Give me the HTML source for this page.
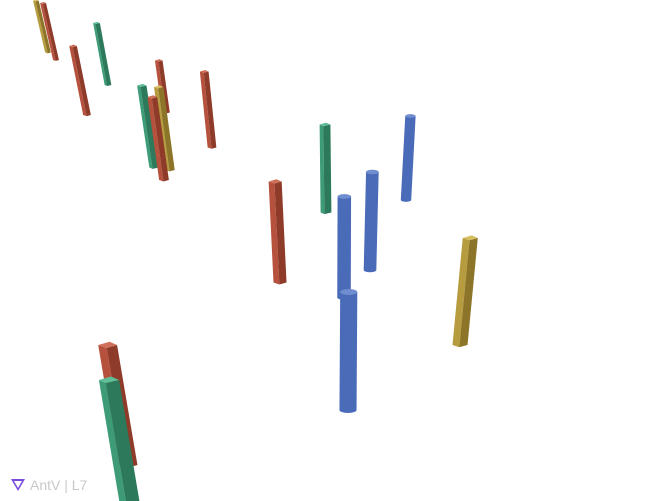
<!DOCTYPE html>
<html><head><meta charset="utf-8"><style>
html,body{margin:0;padding:0;background:#fff;width:672px;height:501px;overflow:hidden}
#logo{position:absolute;left:10px;top:477px;font-family:"Liberation Sans",sans-serif;font-size:14px;color:#c8c8c8;display:flex;align-items:center;gap:4px}
</style></head><body>
<svg id="chart" width="672" height="501" style="position:absolute;left:0;top:0"></svg>
<div id="logo">
<svg width="16" height="14" viewBox="0 0 16 14"><path d="M1 1 L15 1 L8 13 Z M4 3 L8 10 L12 3 Z" fill="#7b4be0" fill-rule="evenodd"/></svg>
<span>AntV | L7</span></div>
<script>
const lng = [102.4,102.8,104.35,105.4,108.3,107.7,108.5,110.6,116.3,114.0,120.3,118.5,117.2,117.4,123.0,106.4,106.5,108.2];
const lat = [37.9,37.6,35.4,36.6,35.5,33.3,33.2,34.1,31.5,28.7,32.0,29.2,28.1,23.6,26.2,21.4,19.8,32.8];
const value = [52,57,69,62,52,82,83,76,88,101,84,98,101,118,107,120,125,83];
const kind = ['hex','square','square','triangle','square','triangle','hex','square','triangle','square','cyl','cyl','cyl','cyl','hex','square','triangle','square'];
const palette = {cyl:['#4a6cb8','#6f8dd0','#34539a'],square:['#b5513c','#d0705b','#8e3b2a'],triangle:['#3d9c77','#5fbf98','#2c7a5b'],hex:['#b69c3e','#d6bd60','#8c7528']};
const svg = document.getElementById('chart');
const NS='http://www.w3.org/2000/svg';
function px(l){return (l-100)*20;}
function py(a){return (40-a)*25;}
const idx = lng.map((_,i)=>i).sort((a,b)=>py(lat[a])-py(lat[b]));
function el(t,attrs){const e=document.createElementNS(NS,t);for(const k in attrs)e.setAttribute(k,attrs[k]);return e;}
idx.forEach(i=>{
  const bx=px(lng[i]), by=py(lat[i]);
  const h=value[i]*1.0;
  const tx=bx+(bx-340)*0.0008*h, ty=by-h;
  const w=4+by*0.032;
  const c=palette[kind[i]];
  const g=el('g',{});
  
  
  const hw=w/2;
  if(kind[i]==='cyl'){
    const body=el('path',{d:`M${tx-hw},${ty} L${bx-hw},${by} A${hw},${hw*0.35} 0 0 0 ${bx+hw},${by} L${tx+hw},${ty} Z`,fill:c[0]});
    g.appendChild(body);
    g.appendChild(el('ellipse',{cx:tx,cy:ty,rx:hw,ry:hw*0.35,fill:c[1]}));
  } else {
    const m=kind[i]==='triangle'?0.35:0.45;
    g.appendChild(el('polygon',{points:`${tx-hw},${ty} ${tx-hw+w*m},${ty+hw*0.3} ${bx-hw+w*m},${by+hw*0.3} ${bx-hw},${by}`,fill:c[0]}));
    g.appendChild(el('polygon',{points:`${tx-hw+w*m},${ty+hw*0.3} ${tx+hw},${ty} ${bx+hw},${by} ${bx-hw+w*m},${by+hw*0.3}`,fill:c[2]}));
    g.appendChild(el('polygon',{points:`${tx-hw},${ty} ${tx-hw+w*m},${ty+hw*0.3} ${tx+hw},${ty} ${tx+hw*0.2},${ty-hw*0.35}`,fill:c[1]}));
  }
  svg.appendChild(g);
});
</script>
</body></html>
